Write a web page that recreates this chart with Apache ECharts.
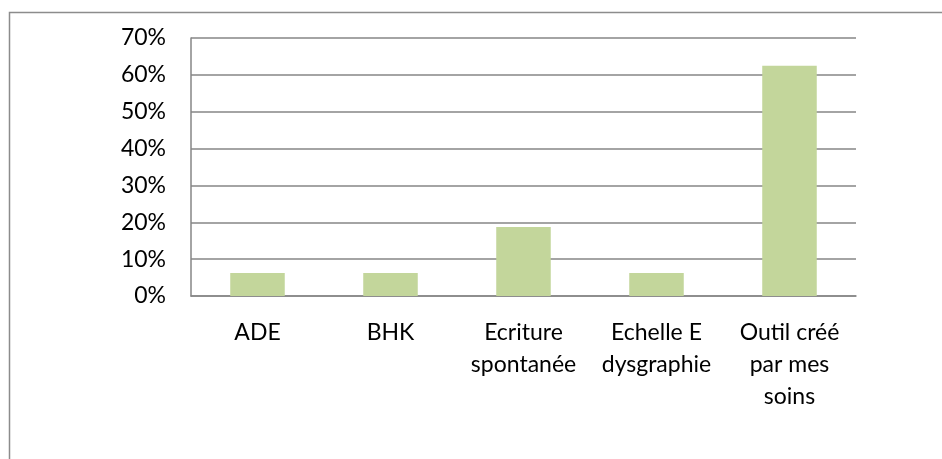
<!DOCTYPE html>
<html>
<head>
<meta charset="utf-8">
<script src="https://cdn.jsdelivr.net/npm/echarts@6/dist/echarts.min.js"></script>
<style>
html,body{margin:0;padding:0;background:#fff;}
#c{width:942px;height:459px;}
</style>
</head>
<body>
<div id="c"></div>
<script>
var categories = ['ADE', 'BHK', 'Ecriture\nspontanée', 'Echelle E\ndysgraphie', 'Outil créé\npar mes\nsoins'];
var values = [0.0625, 0.0625, 0.1875, 0.0625, 0.625];
var yTicks = [0, 0.1, 0.2, 0.3, 0.4, 0.5, 0.6, 0.7];

var chart = echarts.init(document.getElementById('c'));
var font = 'Lato, "Open Sans", sans-serif';
chart.setOption({
  animation: false,
  graphic: [{
    type: 'rect',
    shape: {x: 9.5, y: 12.5, width: 1000, height: 1000},
    style: {fill: 'none', stroke: '#8c8c8c', lineWidth: 1.5},
    silent: true
  }],
  grid: {left: 191, top: 38, right: 86, bottom: 163},
  xAxis: {
    type: 'category',
    data: categories,
    axisLine: {lineStyle: {color: '#868686', width: 1.5}},
    axisTick: {show: false},
    axisLabel: {color: '#000', fontFamily: font, fontSize: 23, lineHeight: 32, margin: 21, interval: 0}
  },
  yAxis: {
    type: 'value',
    min: yTicks[0],
    max: yTicks[yTicks.length - 1],
    interval: 0.1,
    axisLine: {show: true, lineStyle: {color: '#868686', width: 1.5}},
    axisTick: {show: false},
    splitLine: {lineStyle: {color: '#868686', width: 1.5}},
    axisLabel: {
      color: '#000', fontFamily: font, fontSize: 23, margin: 25,
      formatter: function (v) { return Math.round(v * 100) + '%'; }
    }
  },
  series: [{
    type: 'bar',
    data: values,
    barWidth: '41%',
    itemStyle: {color: '#c3d69b'}
  }]
});
</script>
</body>
</html>
